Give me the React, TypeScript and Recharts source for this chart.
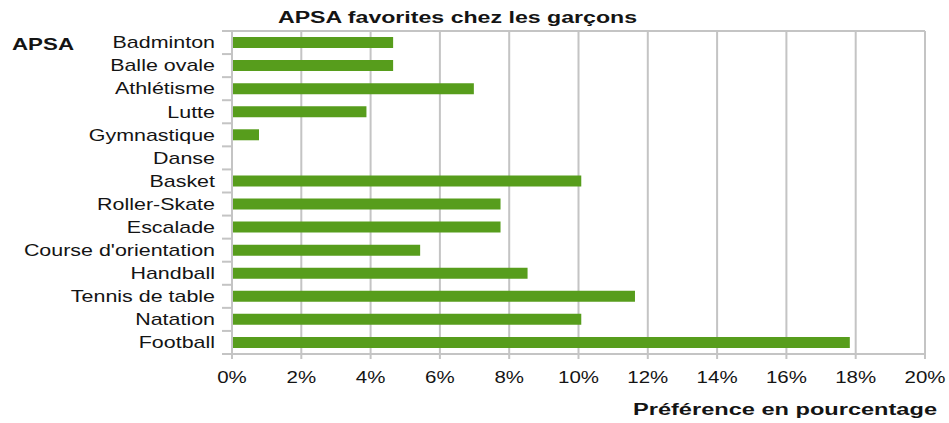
import React from 'react';
import { BarChart, Bar, XAxis, YAxis, CartesianGrid } from 'recharts';

const sports = [
  'Badminton',
  'Balle ovale',
  'Athlétisme',
  'Lutte',
  'Gymnastique',
  'Danse',
  'Basket',
  'Roller-Skate',
  'Escalade',
  "Course d'orientation",
  'Handball',
  'Tennis de table',
  'Natation',
  'Football',
];
const preference = [4.65, 4.65, 6.98, 3.88, 0.78, 0, 10.08, 7.75, 7.75, 5.43, 8.53, 11.63, 10.08, 17.83];
const xTicks = [0, 2, 4, 6, 8, 10, 12, 14, 16, 18, 20];

const data = sports.map((name, i) => ({ name, value: preference[i] }));

const FONT = '"Liberation Sans", Arial, sans-serif';
const INK = '#141414';
const GRID = '#c4c4c4';

// label + small tick mark on the band edges (like the original office chart)
function CategoryTick({ x, y, payload, index }: any) {
  const half = payload.offset || 0;
  const last = index === sports.length - 1;
  return (
    <g>
      <line x1={x - 10} x2={x} y1={y - half} y2={y - half} stroke={GRID} strokeWidth={2} />
      {last && <line x1={x - 10} x2={x} y1={y + half} y2={y + half} stroke={GRID} strokeWidth={2} />}
      <g transform={`translate(${x - 17},${y})`}>
        <text transform="scale(1.34,1)" textAnchor="end" dy="0.36em" fontSize={16} fontFamily={FONT} fill={INK}>
          {payload.value}
        </text>
      </g>
    </g>
  );
}

function PercentTick({ x, y, payload }: any) {
  return (
    <g transform={`translate(${x},${y})`}>
      <text transform="scale(1.28,1)" textAnchor="middle" dy="0.71em" fontSize={16} fontFamily={FONT} fill={INK}>
        {`${payload.value}%`}
      </text>
    </g>
  );
}

export default function App() {
  return (
    <div style={{ position: 'absolute', left: 0, top: 0, width: 949, height: 423, background: '#fff' }}>
      <BarChart
        width={949}
        height={423}
        data={data}
        layout="vertical"
        margin={{ top: 31, right: 24, bottom: 0, left: 0 }}
      >
        <CartesianGrid
          stroke={GRID}
          strokeWidth={2}
          horizontalCoordinatesGenerator={({ offset }: any) => [offset.top]}
        />
        <XAxis
          type="number"
          domain={[0, 20]}
          ticks={xTicks}
          interval={0}
          height={69}
          tickSize={5}
          tickMargin={13}
          axisLine={{ stroke: GRID, strokeWidth: 2 }}
          tickLine={{ stroke: GRID, strokeWidth: 2 }}
          tick={<PercentTick />}
        />
        <YAxis
          type="category"
          dataKey="name"
          width={232}
          interval={0}
          tickSize={0}
          tickMargin={0}
          axisLine={{ stroke: GRID, strokeWidth: 2 }}
          tickLine={false}
          tick={<CategoryTick />}
        />
        <Bar dataKey="value" fill="#579d1c" barSize={11} isAnimationActive={false} />
      </BarChart>
      <svg width={949} height={423} style={{ position: 'absolute', left: 0, top: 0, pointerEvents: 'none' }}>
        <text
          x={278}
          y={23}
          textLength={359}
          lengthAdjust="spacingAndGlyphs"
          fontSize={16}
          fontWeight="bold"
          fontFamily={FONT}
          fill={INK}
        >
          APSA favorites chez les garçons
        </text>
        <text
          x={12}
          y={50}
          textLength={62}
          lengthAdjust="spacingAndGlyphs"
          fontSize={17}
          fontWeight="bold"
          fontFamily={FONT}
          fill={INK}
        >
          APSA
        </text>
        <text
          x={633}
          y={415}
          textLength={304}
          lengthAdjust="spacingAndGlyphs"
          fontSize={16}
          fontWeight="bold"
          fontFamily={FONT}
          fill={INK}
        >
          Préférence en pourcentage
        </text>
      </svg>
    </div>
  );
}
